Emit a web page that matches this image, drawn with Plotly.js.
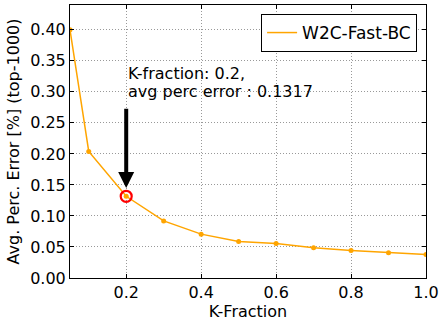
<!DOCTYPE html>
<html>
<head>
<meta charset="utf-8">
<script src="https://cdn.plot.ly/plotly-3.0.1.min.js"></script>
<style>html,body{margin:0;padding:0;background:#fff;}#chart{width:440px;height:324px;}</style>
</head>
<body>
<div id="chart"></div>
<script>
const kFraction = [0.05, 0.1, 0.2, 0.3, 0.4, 0.5, 0.6, 0.7, 0.8, 0.9, 1.0];
const avgPercError = [0.400, 0.204, 0.1317, 0.092, 0.0707, 0.059, 0.0557, 0.0487, 0.0444, 0.0407, 0.038];
const seriesName = 'W2C-Fast-BC';
const highlightK = 0.2;
const highlightErr = 0.1317;
const arrowTail = 0.275;
const arrowTip = 0.145;
const annotationLines = ['K-fraction: 0.2,', 'avg perc error : 0.1317'];
const xTicks = [0.2, 0.4, 0.6, 0.8, 1.0];
const xTickLabels = ['0.2', '0.4', '0.6', '0.8', '1.0'];
const yTicks = [0, 0.05, 0.10, 0.15, 0.20, 0.25, 0.30, 0.35, 0.40];
const yTickLabels = ['0.00', '0.05', '0.10', '0.15', '0.20', '0.25', '0.30', '0.35', '0.40'];

const font = {family: 'DejaVu Sans', size: 16, color: '#000'};

const traces = [
  {
    x: kFraction, y: avgPercError, name: seriesName, mode: 'lines+markers',
    line: {color: '#FFA500', width: 1.5},
    marker: {color: '#FFA500', size: 5, symbol: 'circle'},
    showlegend: false
  },
  {
    x: [null], y: [null], name: seriesName, mode: 'lines',
    line: {color: '#FFA500', width: 1.5}, showlegend: true
  },
  {
    x: [highlightK], y: [highlightErr], mode: 'markers', showlegend: false,
    marker: {symbol: 'circle-open', size: 11, color: '#FF0000', line: {width: 2.2, color: '#FF0000'}}
  }
];

const axisCommon = {
  showline: true, linecolor: '#000', linewidth: 1, mirror: 'ticks',
  ticks: 'inside', ticklen: 4, tickcolor: '#000', tickwidth: 1,
  showgrid: true, gridcolor: '#999999', gridwidth: 1, griddash: '1px,2px',
  zeroline: false, tickfont: font
};

const layout = {
  width: 440, height: 324,
  margin: {l: 70, r: 14, t: 5, b: 46},
  paper_bgcolor: '#fff', plot_bgcolor: '#fff',
  font: font,
  xaxis: Object.assign({}, axisCommon, {
    range: [0.05, 1.0], tickvals: xTicks, ticktext: xTickLabels,
    title: {text: 'K-Fraction', font: font, standoff: 4}
  }),
  yaxis: Object.assign({}, axisCommon, {
    range: [0, 0.44], tickvals: yTicks, ticktext: yTickLabels,
    title: {text: 'Avg. Perc. Error [%] (top-1000)', font: font, standoff: 6}
  }),
  legend: {
    x: 0.975, y: 0.967, xanchor: 'right', yanchor: 'top',
    bordercolor: '#000', borderwidth: 1, bgcolor: '#fff',
    font: {family: 'DejaVu Sans', size: 17, color: '#000'}
  },
  annotations: [
    {
      x: highlightK, y: arrowTip, xref: 'x', yref: 'y',
      ax: highlightK, ay: arrowTail, axref: 'x', ayref: 'y',
      showarrow: true, arrowhead: 2, arrowsize: 0.8, arrowwidth: 4, arrowcolor: '#000', text: ''
    },
    {
      x: highlightK, y: 0.348, xref: 'x', yref: 'y', xanchor: 'left', yanchor: 'top',
      align: 'left', showarrow: false, font: font, text: annotationLines[0]
    },
    {
      x: highlightK, y: 0.3186, xref: 'x', yref: 'y', xanchor: 'left', yanchor: 'top',
      align: 'left', showarrow: false, font: font, text: annotationLines[1]
    }
  ]
};

Plotly.newPlot('chart', traces, layout, {displayModeBar: false, staticPlot: true});
</script>
</body>
</html>
